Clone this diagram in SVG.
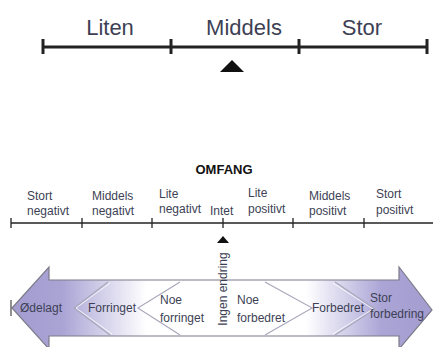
<svg xmlns="http://www.w3.org/2000/svg" width="433" height="347" viewBox="0 0 433 347">
<defs>
<style>
.t{font-family:"Liberation Sans",Arial,sans-serif;fill:#3d3f55}
.big{font-size:22px}
.sm{font-size:12px}
.b{font-family:"Liberation Sans",Arial,sans-serif;font-size:13px;font-weight:bold;fill:#111}
.ax{stroke:#222;fill:none}
.chev{stroke:#a9a7bb;stroke-width:1.2;fill:none}
.hl{stroke:#ffffff;stroke-width:1;fill:none;opacity:0.8}
</style>
<linearGradient id="g" gradientUnits="userSpaceOnUse" x1="12" y1="0" x2="432" y2="0">
<stop offset="0" stop-color="#a39dd0"/>
<stop offset="0.12" stop-color="#aaa4d5"/>
<stop offset="0.32" stop-color="#ffffff"/>
<stop offset="0.7" stop-color="#ffffff"/>
<stop offset="0.88" stop-color="#aba5d6"/>
<stop offset="1" stop-color="#a39dd0"/>
</linearGradient>
</defs>
<rect width="433" height="347" fill="#ffffff"/>

<g id="top-scale">
<line class="ax" x1="43" y1="47" x2="427" y2="47" stroke-width="3"/>
<line class="ax" x1="43" y1="39" x2="43" y2="54" stroke-width="3"/>
<line class="ax" x1="171" y1="39" x2="171" y2="54" stroke-width="3"/>
<line class="ax" x1="299" y1="39" x2="299" y2="54" stroke-width="3"/>
<line class="ax" x1="427" y1="39" x2="427" y2="54" stroke-width="3"/>
<text class="t big" x="110" y="35" text-anchor="middle">Liten</text>
<text class="t big" x="244" y="35" text-anchor="middle">Middels</text>
<text class="t big" x="362" y="35" text-anchor="middle">Stor</text>
<polygon points="232,60 220,72 244,72" fill="#111"/>
</g>

<g id="omfang-scale">
<text class="b" x="224" y="174" text-anchor="middle">OMFANG</text>
<line class="ax" x1="11" y1="223" x2="433" y2="223" stroke-width="1.3"/>
<line class="ax" x1="11" y1="218" x2="11" y2="228" stroke-width="1.3"/>
<line class="ax" x1="82" y1="218" x2="82" y2="228" stroke-width="1.3"/>
<line class="ax" x1="152" y1="218" x2="152" y2="228" stroke-width="1.3"/>
<line class="ax" x1="223" y1="218" x2="223" y2="228" stroke-width="1.3"/>
<line class="ax" x1="293" y1="218" x2="293" y2="228" stroke-width="1.3"/>
<line class="ax" x1="364" y1="218" x2="364" y2="228" stroke-width="1.3"/>
<text class="t sm" x="27" y="200">Stort</text>
<text class="t sm" x="27" y="215">negativt</text>
<text class="t sm" x="92" y="200">Middels</text>
<text class="t sm" x="92" y="215">negativt</text>
<text class="t sm" x="159" y="198">Lite</text>
<text class="t sm" x="159" y="213">negativt</text>
<text class="t sm" x="210" y="215">Intet</text>
<text class="t sm" x="248" y="197">Lite</text>
<text class="t sm" x="248" y="213">positivt</text>
<text class="t sm" x="309" y="200">Middels</text>
<text class="t sm" x="309" y="215">positivt</text>
<text class="t sm" x="376" y="198">Stort</text>
<text class="t sm" x="376" y="214">positivt</text>
<polygon points="223,236 217,243 229,243" fill="#111"/>
</g>

<g id="arrow">
<polygon points="12,308 49,267 49,280 399,280 399,267 432,310 399,349 399,336 49,336 49,349" fill="url(#g)" stroke="#7d7b8a" stroke-width="1.2"/>
<line x1="11" y1="300" x2="11" y2="316" stroke="#555" stroke-width="1.3"/>
</g>

<g id="connectors">
<polyline class="chev" points="108,282 74,308 110,335"/>
<polyline class="hl" points="110,283 76,308 112,334"/>
<polyline class="chev" points="180,282 138,308 180,335"/>
<polyline class="hl" points="182,283 140,308 182,334"/>
<polyline class="chev" points="265,282 312,308 265,335"/>
<polyline class="hl" points="263,283 310,308 263,334"/>
<polyline class="chev" points="335,282 375,309 335,335"/>
<polyline class="hl" points="333,283 373,309 333,334"/>
</g>

<g id="labels">
<text class="t sm" x="20" y="312">Ødelagt</text>
<text class="t sm" x="88" y="312">Forringet</text>
<text class="t sm" x="160" y="304">Noe</text>
<text class="t sm" x="160" y="322">forringet</text>
<text class="t sm" x="237" y="304">Noe</text>
<text class="t sm" x="237" y="322">forbedret</text>
<text class="t sm" x="312" y="312">Forbedret</text>
<text class="t sm" x="370" y="302">Stor</text>
<text class="t sm" x="370" y="318">forbedring</text>
<text class="t sm" x="0" y="0" text-anchor="middle" transform="translate(227,289) rotate(-90)">Ingen endring</text>
</g>
</svg>
